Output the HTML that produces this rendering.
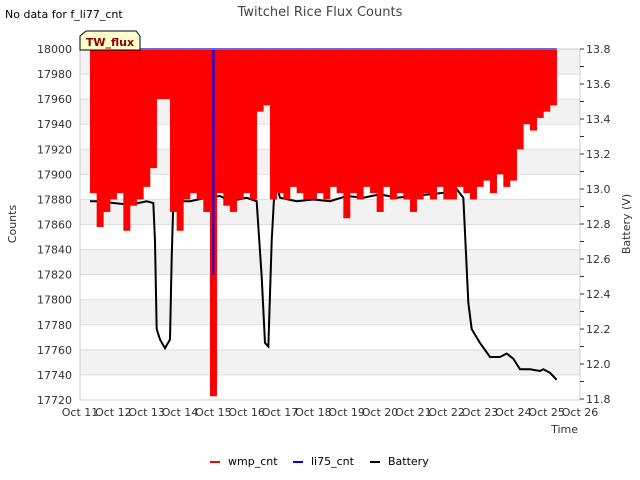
<!DOCTYPE html>
<html><head><meta charset="utf-8"><style>
body{margin:0;background:#fff;font-family:"Liberation Sans","DejaVu Sans",sans-serif}
svg{display:block}
</style></head><body>
<svg id="chart" width="640" height="480" xmlns="http://www.w3.org/2000/svg" font-family="DejaVu Sans, Liberation Sans, sans-serif">
<text x="5" y="18" font-size="11" fill="#000">No data for f_li77_cnt</text>
<text x="320" y="16" font-size="13" fill="#444" text-anchor="middle">Twitchel Rice Flux Counts</text>
<g id="bands"></g><g id="grid"></g>
<g id="series"></g>
<rect x="80" y="49" width="500" height="351" fill="none" stroke="#ccc"/>
<g id="axes" font-size="11" fill="#333"></g>
<text x="16" y="224" font-size="11" transform="rotate(-90 16 224)" text-anchor="middle" fill="#333">Counts</text>
<text x="630" y="224" font-size="11" transform="rotate(-90 630 224)" text-anchor="middle" fill="#333">Battery (V)</text>
<text x="578" y="433" font-size="11" text-anchor="end" fill="#333">Time</text>
<g>
<polygon points="86,31 136,31 140,36 140,50 80,50 80,36" fill="#ffffcc" stroke="#000"/>
<text x="110" y="46" font-size="11" font-weight="bold" fill="#8b0000" text-anchor="middle">TW_flux</text>
</g>
<g id="legend" font-size="11" fill="#000"></g>
</svg>
<script>
const xTicks=["Oct 11","Oct 12","Oct 13","Oct 14","Oct 15","Oct 16","Oct 17","Oct 18","Oct 19","Oct 20","Oct 21","Oct 22","Oct 23","Oct 24","Oct 25","Oct 26"];
const yTicks=[17720,17740,17760,17780,17800,17820,17840,17860,17880,17900,17920,17940,17960,17980,18000];
const y2Ticks=[11.8,12.0,12.2,12.4,12.6,12.8,13.0,13.2,13.4,13.6,13.8];
const wmpStart=11.4, wmpStep=0.2, wmpHigh=18000;
const wmpLow=[17885,17858,17870,
17880,17885,17855,17875,17880,
17890,17905,17960,17960,17870,
17855,17880,17885,17880,17870,
17723,17885,17875,17870,17880,
17885,17880,17950,17955,17880,
17885,17880,17890,17885,17880,
17880,17885,17880,17890,17885,
17865,17885,17880,17890,17885,
17870,17890,17880,17885,17880,
17870,17880,17885,17880,17890,
17880,17880,17890,17885,17880,
17890,17895,17885,17900,17890,
17895,17920,17940,17935,17945,
17950,17955];
const liTimes=[11.35,15.0,15.0,15.01,25.3];
const liVals=[18000,18000,17820,18000,18000];
const batTimes=[11.3,11.6,12.0,12.5,13.0,13.2,13.25,13.3,13.4,13.55,13.7,13.75,13.8,14.3,14.8,15.2,15.5,16.0,16.3,16.45,16.55,16.65,16.75,16.85,17.0,17.5,18.0,18.5,19.0,19.5,20.0,20.5,21.0,21.5,22.0,22.3,22.5,22.65,22.75,23.0,23.3,23.6,23.8,24.0,24.2,24.5,24.8,24.9,25.1,25.3];
const batVals=[12.93,12.93,12.92,12.91,12.93,12.92,12.7,12.2,12.14,12.09,12.14,12.6,12.93,12.93,12.95,12.96,12.93,12.95,12.93,12.5,12.12,12.1,12.7,13.05,12.95,12.93,12.94,12.93,12.96,12.95,12.97,12.95,12.96,12.97,12.98,13.0,12.95,12.35,12.2,12.12,12.04,12.04,12.06,12.03,11.97,11.97,11.96,11.97,11.95,11.91];
const NS="http://www.w3.org/2000/svg";
const X=d=>80+(d-11)*500/15;
const Y=v=>400-(v-17720)*351/280;
const Y2=v=>399-(v-11.8)*350/2;
function mk(tag,attrs,parent){const e=document.createElementNS(NS,tag);for(const k in attrs)e.setAttribute(k,attrs[k]);parent.appendChild(e);return e;}
const bands=document.getElementById('bands'),grid=document.getElementById('grid'),axes=document.getElementById('axes'),series=document.getElementById('series'),legend=document.getElementById('legend');
for(let i=0;i<yTicks.length-1;i++){
  if((yTicks.length-2-i)%2===0){const b=mk('rect',{x:80,y:Y(yTicks[i+1]),width:500,height:Y(yTicks[i])-Y(yTicks[i+1]),fill:'#f2f2f2'},bands);
  
  }
}
yTicks.forEach(v=>{const l=mk('line',{x1:80,x2:580,y1:Y(v),y2:Y(v),stroke:'#ddd'},grid);


const t=mk('text',{x:72,y:Y(v)+4,'text-anchor':'end'},axes);t.textContent=v;

});
y2Ticks.forEach((v,i)=>{const t=mk('text',{x:586,y:Y2(v)+4},axes);t.textContent=v.toFixed(1);


mk('line',{x1:580,x2:584,y1:Y2(v),y2:Y2(v),stroke:'#333'},axes);
if(i<y2Ticks.length-1)mk('line',{x1:580,x2:584,y1:Y2(v+0.1),y2:Y2(v+0.1),stroke:'#333'},axes);});
xTicks.forEach((s,i)=>{const t=mk('text',{x:X(11+i),y:416,'text-anchor':'middle'},axes);t.textContent=s;

});
// battery first (underneath)
const bp=mk('polyline',{points:batTimes.map((t,i)=>X(t)+','+Y2(batVals[i])).join(' '),fill:'none',stroke:'#000','stroke-width':2},series);


// wmp as dense bars
const wg=mk('g',{fill:'#ff0000'},series);


wmpLow.forEach((v,i)=>{const t=wmpStart+i*wmpStep;
const x0=X(t-wmpStep/2),x1=X(t+wmpStep/2);
const r=mk('rect',{x:x0,y:Y(wmpHigh),width:(x1-x0)+0.3,height:Y(v)-Y(wmpHigh)},wg);

});
const lp=mk('polyline',{points:liTimes.map((t,i)=>X(t)+','+Y(liVals[i])).join(' '),fill:'none',stroke:'#0000ff','stroke-width':2},series);


[["wmp_cnt","#ff0000",210],["li75_cnt","#0000ff",293],["Battery","#000",370]].forEach(([n,c,x])=>{
const g=mk('g',{},legend);


mk('line',{x1:x,x2:x+10,y1:462,y2:462,stroke:c,'stroke-width':2},g);
const t=mk('text',{x:x+18,y:465},g);t.textContent=n;});
</script>
</body></html>
